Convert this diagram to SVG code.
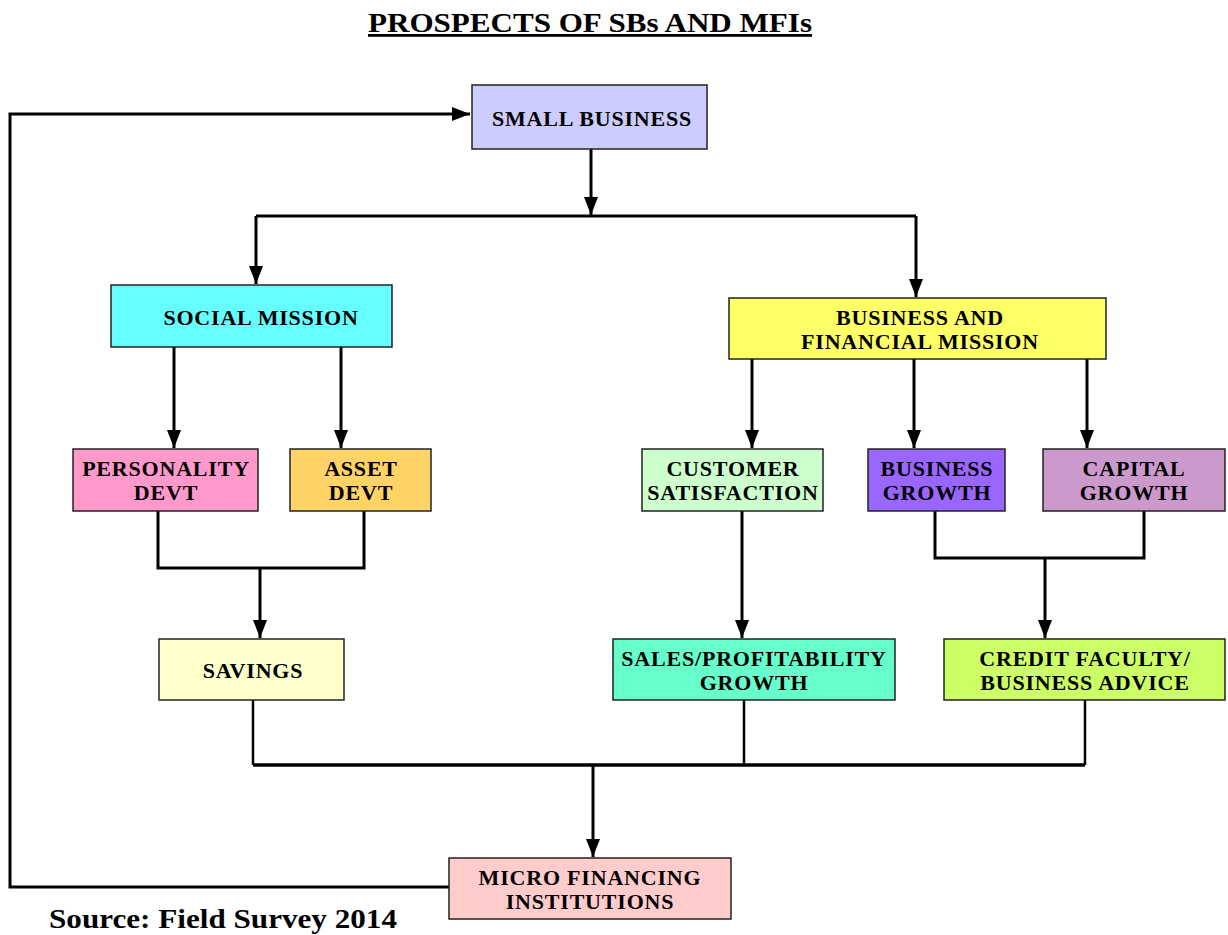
<svg xmlns="http://www.w3.org/2000/svg" width="1228" height="935" viewBox="0 0 1228 935">
<style>
.box{stroke:#222;stroke-width:1.5}
.lbl{font-family:"Liberation Serif","Times New Roman",serif;font-weight:bold;font-size:22px;letter-spacing:0.8px;fill:#000;text-anchor:middle}
.ln{fill:none;stroke:#000;stroke-width:3}
.ttl{font-family:"Liberation Serif","Times New Roman",serif;font-weight:bold;font-size:28px;fill:#000}
</style>
<defs>
<marker id="ah" markerUnits="userSpaceOnUse" markerWidth="18" markerHeight="18" viewBox="0 0 18 14" refX="18" refY="7" orient="auto">
<path d="M0,0 L18,7 L0,14 Z" fill="#000"/>
</marker>
</defs>
<rect width="1228" height="935" fill="#fff"/>
<text class="ttl" x="368" y="32" textLength="444" lengthAdjust="spacingAndGlyphs" text-decoration="underline">PROSPECTS OF SBs AND MFIs</text>
<text class="ttl" x="49" y="928" textLength="348" lengthAdjust="spacingAndGlyphs">Source: Field Survey 2014</text>

<g id="connectors">
<path class="ln" d="M449,887 H10 V114 H470" marker-end="url(#ah)"/>
<path class="ln" d="M591,149 V215" marker-end="url(#ah)"/>
<path class="ln" d="M256,216 H916"/>
<path class="ln" d="M256,216 V284" marker-end="url(#ah)"/>
<path class="ln" d="M916,216 V297" marker-end="url(#ah)"/>
<path class="ln" d="M174,347 V448" marker-end="url(#ah)"/>
<path class="ln" d="M341,347 V448" marker-end="url(#ah)"/>
<path class="ln" d="M752,359 V448" marker-end="url(#ah)"/>
<path class="ln" d="M914,359 V448" marker-end="url(#ah)"/>
<path class="ln" d="M1087,359 V448" marker-end="url(#ah)"/>
<path class="ln" d="M158,511 V568 H364 V511"/>
<path class="ln" d="M260,568 V638" marker-end="url(#ah)"/>
<path class="ln" d="M742,511 V638" marker-end="url(#ah)"/>
<path class="ln" d="M935,511 V558 H1144 V511"/>
<path class="ln" d="M1045,558 V638" marker-end="url(#ah)"/>
<path class="ln" style="stroke-width:2.5" d="M253,700 V765 M744,700 V765 M1085,700 V765"/>
<path class="ln" style="stroke-width:3.5" d="M253,765 H1085"/>
<path class="ln" d="M593,765 V857" marker-end="url(#ah)"/>
</g>

<g id="small-business"><rect class="box" x="472" y="85" width="235" height="64" fill="#CCCCFF"/><text class="lbl" x="592" y="126">SMALL BUSINESS</text></g>
<g id="social-mission"><rect class="box" x="111" y="285" width="281" height="62" fill="#66FFFF"/><text class="lbl" x="261" y="325">SOCIAL MISSION</text></g>
<g id="business-financial-mission"><rect class="box" x="729" y="298" width="377" height="61" fill="#FFFF66"/><text class="lbl" x="920" y="325">BUSINESS AND</text><text class="lbl" x="920" y="349">FINANCIAL MISSION</text></g>
<g id="personality-devt"><rect class="box" x="73" y="449" width="185" height="62" fill="#FF99CC"/><text class="lbl" x="166" y="476">PERSONALITY</text><text class="lbl" x="166" y="500">DEVT</text></g>
<g id="asset-devt"><rect class="box" x="290" y="449" width="141" height="62" fill="#FFD366"/><text class="lbl" x="361" y="476">ASSET</text><text class="lbl" x="361" y="500">DEVT</text></g>
<g id="customer-satisfaction"><rect class="box" x="642" y="449" width="181" height="62" fill="#CCFFCC"/><text class="lbl" x="733" y="476">CUSTOMER</text><text class="lbl" x="733" y="500">SATISFACTION</text></g>
<g id="business-growth"><rect class="box" x="868" y="449" width="137" height="62" fill="#9966FF"/><text class="lbl" x="937" y="476">BUSINESS</text><text class="lbl" x="937" y="500">GROWTH</text></g>
<g id="capital-growth"><rect class="box" x="1043" y="449" width="182" height="62" fill="#CC99CC"/><text class="lbl" x="1134" y="476">CAPITAL</text><text class="lbl" x="1134" y="500">GROWTH</text></g>
<g id="savings"><rect class="box" x="159" y="639" width="185" height="61" fill="#FFFFCC"/><text class="lbl" x="253" y="678">SAVINGS</text></g>
<g id="sales-profitability"><rect class="box" x="613" y="639" width="282" height="61" fill="#66FFCC"/><text class="lbl" x="754" y="666">SALES/PROFITABILITY</text><text class="lbl" x="754" y="690">GROWTH</text></g>
<g id="credit-faculty"><rect class="box" x="944" y="639" width="281" height="61" fill="#CCFF66"/><text class="lbl" x="1085" y="666">CREDIT FACULTY/</text><text class="lbl" x="1085" y="690">BUSINESS ADVICE</text></g>
<g id="micro-financing"><rect class="box" x="449" y="858" width="282" height="61" fill="#FFCCCC"/><text class="lbl" x="590" y="885">MICRO FINANCING</text><text class="lbl" x="590" y="909">INSTITUTIONS</text></g>
</svg>
